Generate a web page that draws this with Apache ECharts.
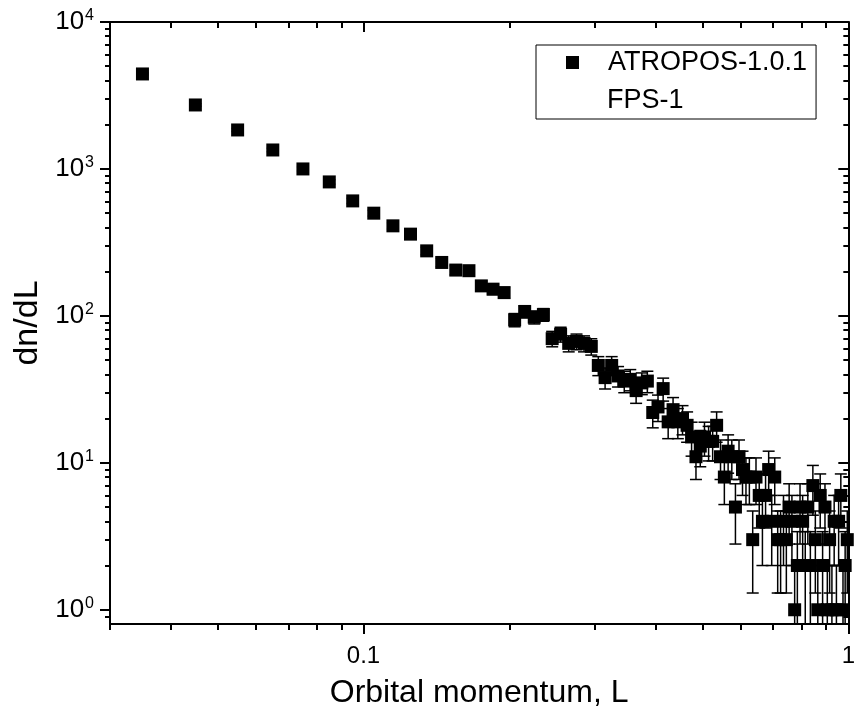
<!DOCTYPE html>
<html lang="en">

<head>
  <meta charset="UTF-8">
  <title>dn/dL vs orbital momentum</title>
  <script src="https://cdn.jsdelivr.net/npm/echarts@6/dist/echarts.min.js"></script>
  <style>
    html, body { margin: 0; padding: 0; background: #fff; }
  </style>
</head>

<body>
  <div id="main" style="width: 858px;height:720px"></div>
  <script>
    var myChart = echarts.init(document.getElementById('main'));

    // bin centres of L
    var momentum = [
      0.035, 0.045, 0.055, 0.065, 0.075, 0.085, 0.095,
      0.105, 0.115, 0.125, 0.135, 0.145, 0.155, 0.165, 0.175, 0.185, 0.195,
      0.205, 0.215, 0.225, 0.235, 0.245, 0.255, 0.265, 0.275, 0.285, 0.295,
      0.305, 0.315, 0.325, 0.335, 0.345, 0.355, 0.365, 0.375, 0.385, 0.395,
      0.405, 0.415, 0.425, 0.435, 0.445, 0.455, 0.465, 0.475, 0.485, 0.495,
      0.505, 0.515, 0.525, 0.535, 0.545, 0.555, 0.565, 0.575, 0.585, 0.595,
      0.605, 0.615, 0.625, 0.635, 0.645, 0.655, 0.665, 0.675, 0.685, 0.695,
      0.705, 0.715, 0.725, 0.735, 0.745, 0.755, 0.765, 0.775, 0.785, 0.795,
      0.805, 0.815, 0.825, 0.835, 0.845, 0.855, 0.865, 0.875, 0.885, 0.895,
      0.905, 0.915, 0.925, 0.935, 0.945, 0.955, 0.965, 0.975, 0.985, 0.995
    ];
    // dn/dL
    var dndl = [
      4430, 2725, 1842, 1346, 1000, 816, 606,
      500, 410, 360, 277, 231, 205, 203, 160, 152, 144,
      94, 107, 98, 102, 70, 75, 65, 67, 65, 62,
      46, 38, 46, 39, 36, 37, 31, 35, 36, 22,
      24, 32, 19, 23, 19, 20, 18, 15, 11, 13,
      15, 14, 14, 18, 11, 8, 12, 11, 5, 11,
      9, 8, 8, 3, 8, 6, 4, 6, 9, 4,
      8, 3, 3, 4, 3, 5, 4, 1, 2, 5,
      4, 2, 5, 2, 7, 3, 1, 6, 2, 5,
      1, 3, 1, 4, 1, 4, 6, 1, 2, 3
    ];
    // error bar half heights
    var dndlErr = [
      66.6, 52.2, 42.9, 36.7, 31.6, 28.6, 24.6,
      22.4, 20.2, 19.0, 16.6, 15.2, 14.3, 14.2, 12.6, 12.3, 12.0,
      9.7, 10.3, 9.9, 10.1, 8.4, 8.7, 8.1, 8.2, 8.1, 7.9,
      6.8, 6.2, 6.8, 6.2, 6.0, 6.1, 5.6, 5.9, 6.0, 4.7,
      4.9, 5.7, 4.4, 4.8, 4.4, 4.5, 4.2, 3.9, 3.3, 3.6,
      3.9, 3.7, 3.7, 4.2, 3.3, 2.8, 3.5, 3.3, 2.2, 3.3,
      3.0, 2.8, 2.8, 1.7, 2.8, 2.4, 2.0, 2.4, 3.0, 2.0,
      2.8, 1.7, 1.7, 2.0, 1.7, 2.2, 2.0, 1.0, 1.4, 2.2,
      2.0, 1.4, 2.2, 1.4, 2.6, 1.7, 1.0, 2.4, 1.4, 2.2,
      1.0, 1.7, 1.0, 2.0, 1.0, 2.0, 2.4, 1.0, 1.4, 1.7
    ];

    // tick values
    var xMajor = [0.1, 1];
    var xMinor = [0.03, 0.04, 0.05, 0.06, 0.07, 0.08, 0.09, 0.2, 0.3, 0.4, 0.5, 0.6, 0.7, 0.8, 0.9];
    var yMajor = [1, 10, 100, 1000, 10000];
    var yMinor = [0.9,
      2, 3, 4, 5, 6, 7, 8, 9,
      20, 30, 40, 50, 60, 70, 80, 90,
      200, 300, 400, 500, 600, 700, 800, 900,
      2000, 3000, 4000, 5000, 6000, 7000, 8000, 9000];

    var xMin = 0.03, xMax = 1;
    var yMin = 0.8, yMax = 10000;

    var pointData = momentum.map(function (x, i) { return [x, dndl[i]]; });
    var errData = momentum.map(function (x, i) { return [x, dndl[i], dndlErr[i]]; });

    var font = 'Liberation Sans';

    // one axis with major ticks and one with minor ticks per side
    function xAx(pos, ticks, len, inside, line, labels) {
      return {
        type: 'log', position: pos, min: xMin, max: xMax,
        axisLine: { show: line, lineStyle: { color: '#000', width: 2 } },
        axisTick: { show: true, customValues: ticks, length: len, inside: inside, lineStyle: { color: '#000', width: 2 } },
        axisLabel: labels || { show: false },
        splitLine: { show: false },
        minorTick: { show: false }
      };
    }
    function yAx(pos, ticks, len, inside, line, labels) {
      return {
        type: 'log', position: pos, min: yMin, max: yMax,
        axisLine: { show: line, lineStyle: { color: '#000', width: 2 } },
        axisTick: { show: true, customValues: ticks, length: len, inside: inside, lineStyle: { color: '#000', width: 2 } },
        axisLabel: labels || { show: false },
        splitLine: { show: false },
        minorTick: { show: false }
      };
    }

    var xBottom = xAx('bottom', xMajor, 10, false, true, {
      customValues: xMajor,
      margin: 20,
      fontSize: 24,
      fontFamily: font,
      color: '#000',
      formatter: function (v) { return v >= 1 ? '1' : '0.1'; }
    });
    xBottom.name = 'Orbital momentum, L';
    xBottom.nameLocation = 'middle';
    xBottom.nameGap = 53;
    xBottom.nameTextStyle = { fontSize: 32, fontFamily: font, color: '#000' };

    var yLeft = yAx('left', yMajor, 10, false, true, {
      customValues: yMajor,
      margin: 16,
      color: '#000',
      formatter: function (v) {
        return '{b|10}{s|' + Math.round(Math.log10(v)) + '}';
      },
      rich: {
        b: { fontSize: 26, fontFamily: font, color: '#000' },
        s: { fontSize: 16, fontFamily: font, color: '#000', padding: [0, 0, 13, 1] }
      }
    });
    yLeft.name = 'dn/dL';
    yLeft.nameLocation = 'middle';
    yLeft.nameGap = 64;
    yLeft.nameTextStyle = { fontSize: 34, fontFamily: font, color: '#000' };

    var option = {
      backgroundColor: '#fff',
      animation: false,
      grid: { left: 110, right: 2, top: 22, bottom: 96 },
      legend: {
        data: ['ATROPOS-1.0.1'],
        left: 536,
        top: 45,
        orient: 'vertical',
        icon: 'rect',
        itemWidth: 13,
        itemHeight: 13,
        borderColor: '#000',
        borderWidth: 1,
        borderRadius: 0,
        padding: [4, 9, 43, 30],
        selectedMode: false,
        textStyle: { fontSize: 27, fontFamily: font, color: '#000', padding: [0, 0, 0, 24] }
      },
      graphic: [{
        type: 'text',
        left: 607,
        top: 87,
        style: { text: 'FPS-1', fontSize: 27, fontFamily: font, fill: '#000' }
      }],
      xAxis: [
        xBottom,
        xAx('bottom', xMinor, 6, false, false),
        xAx('top', xMajor, 10, true, true),
        xAx('top', xMinor, 6, true, false)
      ],
      yAxis: [
        yLeft,
        yAx('left', yMinor, 5, false, false),
        yAx('right', yMajor, 10, true, true),
        yAx('right', yMinor, 5, true, false)
      ],
      series: [
        {
          name: 'errors',
          type: 'custom',
          xAxisIndex: 0,
          yAxisIndex: 0,
          clip: true,
          data: errData,
          encode: { x: 0, y: 1 },
          z: 2,
          renderItem: function (params, api) {
            var x = api.value(0), y = api.value(1), e = api.value(2);
            var lo = Math.max(y - e, yMin);
            var top = api.coord([x, y + e]);
            var bot = api.coord([x, lo]);
            var w = 6;
            var st = { stroke: '#000', lineWidth: 1.5 };
            var kids = [
              { type: 'line', shape: { x1: top[0], y1: top[1], x2: bot[0], y2: bot[1] }, style: st },
              { type: 'line', shape: { x1: top[0] - w, y1: top[1], x2: top[0] + w, y2: top[1] }, style: st }
            ];
            if (y - e > yMin) {
              kids.push({ type: 'line', shape: { x1: bot[0] - w, y1: bot[1], x2: bot[0] + w, y2: bot[1] }, style: st });
            }
            return { type: 'group', children: kids };
          }
        },
        {
          name: 'ATROPOS-1.0.1',
          type: 'scatter',
          xAxisIndex: 0,
          yAxisIndex: 0,
          symbol: 'rect',
          symbolSize: 13,
          itemStyle: { color: '#000', opacity: 1 },
          z: 3,
          data: pointData
        }
      ]
    };
    myChart.setOption(option);
  </script>
</body>

</html>
